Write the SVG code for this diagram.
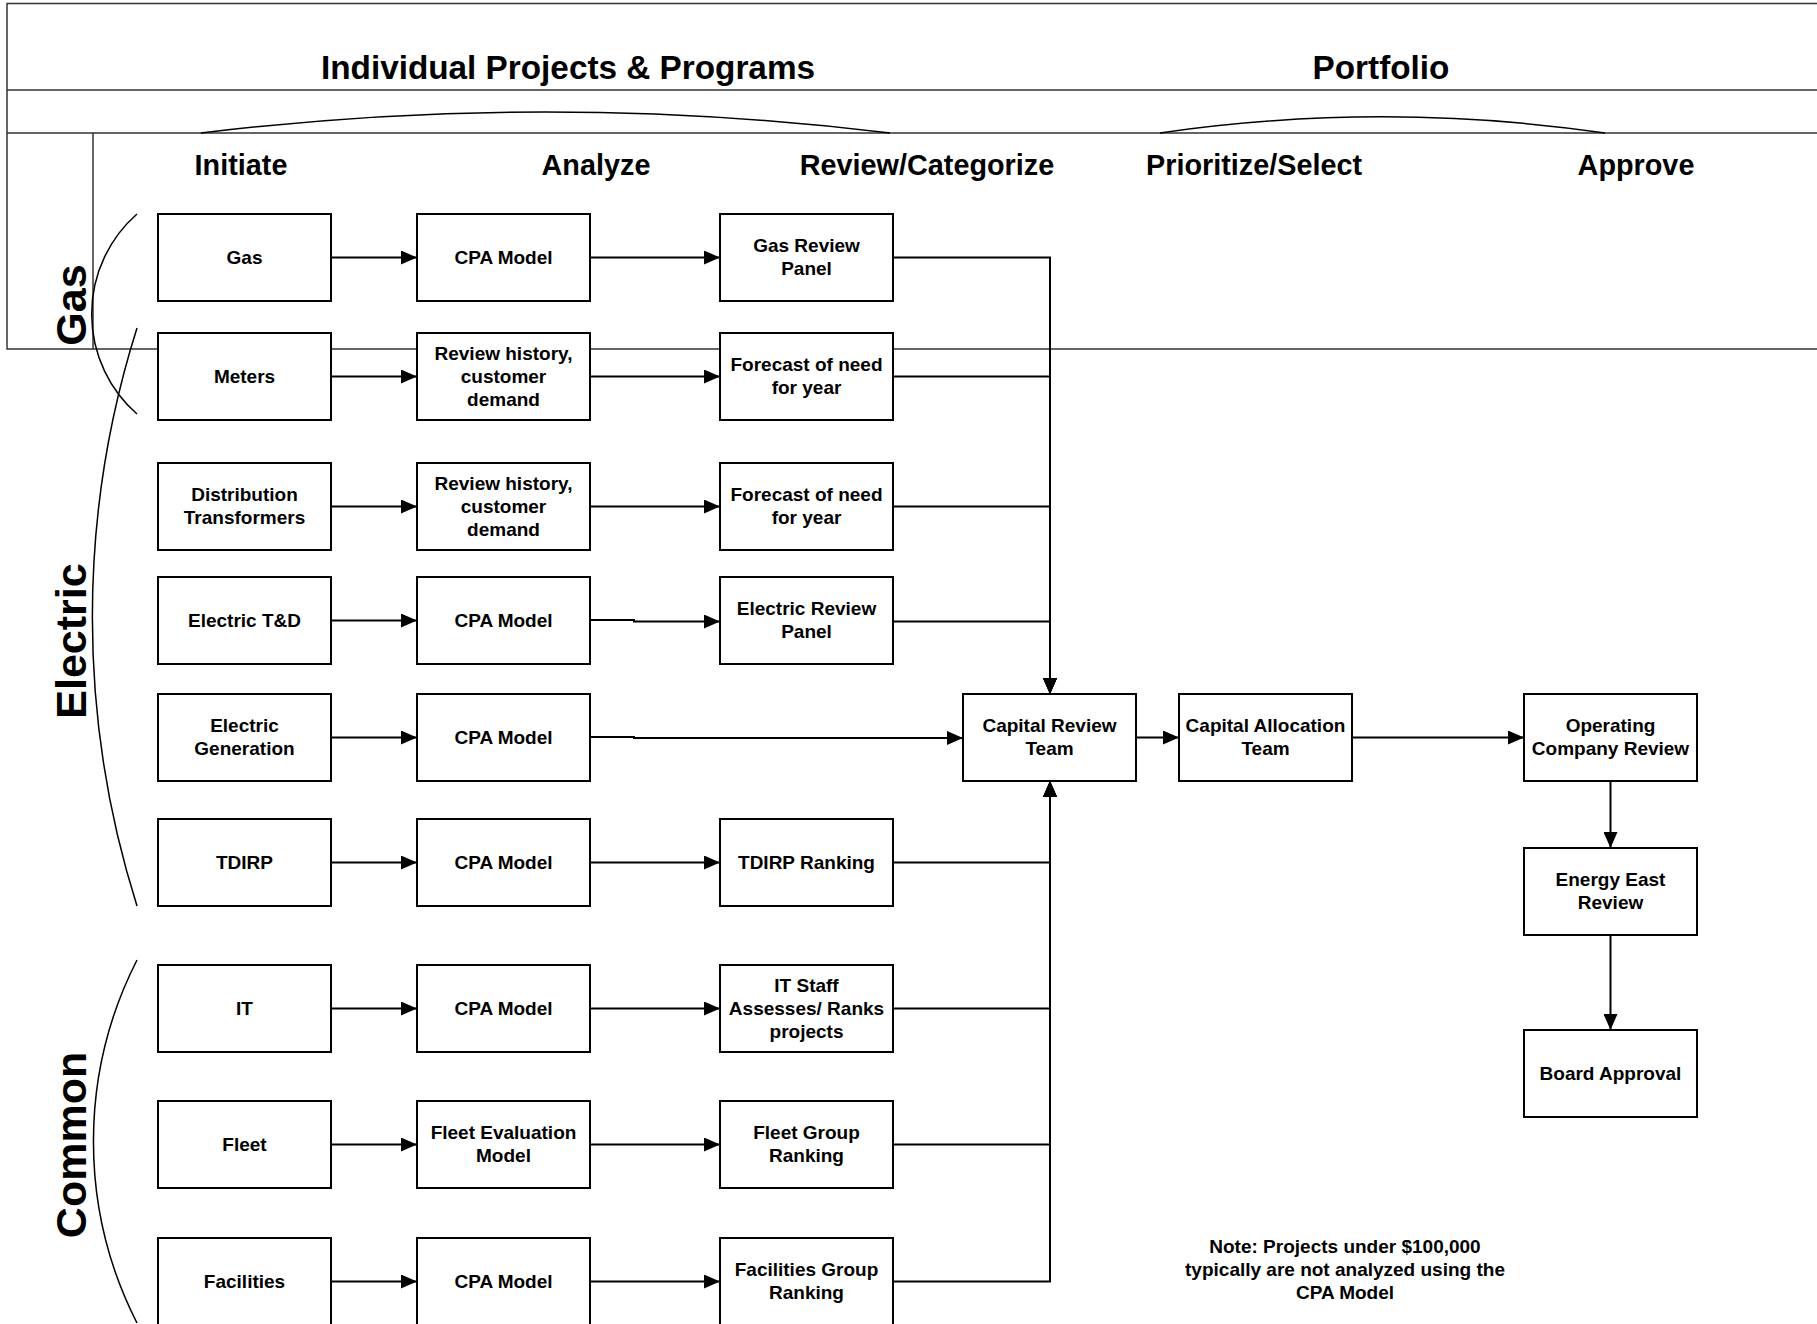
<svg xmlns="http://www.w3.org/2000/svg" width="1817" height="1324" viewBox="0 0 1817 1324">
<style>
  .frame { fill: none; stroke: #333; stroke-width: 1.5; }
  .brk { fill: none; stroke: #000; stroke-width: 1.5; }
  .box rect { fill: #fff; stroke: #000; stroke-width: 2; }
  .box text { font-family: "Liberation Sans", Arial, sans-serif; font-weight: bold; font-size: 19px; text-anchor: middle; fill: #000; }
  .conn path { fill: none; stroke: #000; stroke-width: 2; marker-end: url(#arr); }
  .hdr { font-family: "Liberation Sans", Arial, sans-serif; font-weight: bold; fill: #000; text-anchor: middle; }
  .h1 { font-size: 33.3px; }
  .h2 { font-size: 28.8px; }
  .side { font-size: 43px; }
  .note { font-family: "Liberation Sans", Arial, sans-serif; font-weight: bold; font-size: 19px; text-anchor: middle; fill: #000; }
</style>
<defs>
  <marker id="arr" markerUnits="userSpaceOnUse" markerWidth="16" markerHeight="14" refX="16" refY="7" orient="auto">
    <path d="M0,0 L16,7 L0,14 z" fill="#000"/>
  </marker>
</defs>
<rect width="1817" height="1324" fill="#fff"/>

<g id="frame">
  <path class="frame" d="M1817 3.5 H7 V349 H1817"/>
  <path class="frame" d="M7 90 H1817 M7 133 H1817 M93 133 V349"/>
  <path class="brk" d="M201 133 A2836 2836 0 0 1 890 133"/>
  <path class="brk" d="M1160 133 A1550 1550 0 0 1 1605 133"/>
  <text class="hdr h1" x="568" y="79">Individual Projects &amp; Programs</text>
  <text class="hdr h1" x="1381" y="79">Portfolio</text>
  <text class="hdr h2" x="241" y="175">Initiate</text>
  <text class="hdr h2" x="596" y="175">Analyze</text>
  <text class="hdr h2" x="927" y="175">Review/Categorize</text>
  <text class="hdr h2" x="1254" y="175">Prioritize/Select</text>
  <text class="hdr h2" x="1636" y="175">Approve</text>
</g>

<g id="groups">
  <path class="brk" d="M137 214 A133 133 0 0 0 137 414"/>
  <path class="brk" d="M137 328 A958 958 0 0 0 137 906"/>
  <path class="brk" d="M137 960 A400 400 0 0 0 137 1323"/>
  <text class="hdr side" transform="translate(85.5,305) rotate(-90)">Gas</text>
  <text class="hdr side" transform="translate(85.5,641) rotate(-90)">Electric</text>
  <text class="hdr side" transform="translate(85.5,1145) rotate(-90)">Common</text>
</g>

<g class="conn" id="connectors">
  <path d="M331 257.5 H417"/>
  <path d="M590 257.5 H720"/>
  <path d="M331 376.5 H417"/>
  <path d="M590 376.5 H720"/>
  <path d="M331 506.5 H417"/>
  <path d="M590 506.5 H720"/>
  <path d="M331 620.5 H417"/>
  <path d="M590 620 H634 V621.5 H720"/>
  <path d="M331 737.5 H417"/>
  <path d="M590 737 H634 V738 H963"/>
  <path d="M331 862.5 H417"/>
  <path d="M590 862.5 H720"/>
  <path d="M331 1008.5 H417"/>
  <path d="M590 1008.5 H720"/>
  <path d="M331 1144.5 H417"/>
  <path d="M590 1144.5 H720"/>
  <path d="M331 1281.5 H417"/>
  <path d="M590 1281.5 H720"/>
  <path d="M893 257.5 H1050 V694"/>
  <path d="M893 376.5 H1050 V694"/>
  <path d="M893 506.5 H1050 V694"/>
  <path d="M893 621.5 H1050 V694"/>
  <path d="M893 862.5 H1050 V781"/>
  <path d="M893 1008.5 H1050 V781"/>
  <path d="M893 1144.5 H1050 V781"/>
  <path d="M893 1281.5 H1050 V781"/>
  <path d="M1136 737.5 H1179"/>
  <path d="M1352 737.5 H1524"/>
  <path d="M1610.5 781 V848"/>
  <path d="M1610.5 935 V1030"/>
</g>

<g id="n-gas" class="box"><rect x="158" y="214" width="173" height="87"/><text x="244.5" y="263.5">Gas</text></g>
<g id="n-gas-cpa" class="box"><rect x="417" y="214" width="173" height="87"/><text x="503.5" y="263.5">CPA Model</text></g>
<g id="n-gas-review" class="box"><rect x="720" y="214" width="173" height="87"/><text x="806.5" y="252">Gas Review</text><text x="806.5" y="275">Panel</text></g>

<g id="n-meters" class="box"><rect x="158" y="333" width="173" height="87"/><text x="244.5" y="382.5">Meters</text></g>
<g id="n-meters-hist" class="box"><rect x="417" y="333" width="173" height="87"/><text x="503.5" y="359.5">Review history,</text><text x="503.5" y="382.5">customer</text><text x="503.5" y="405.5">demand</text></g>
<g id="n-meters-fc" class="box"><rect x="720" y="333" width="173" height="87"/><text x="806.5" y="371">Forecast of need</text><text x="806.5" y="394">for year</text></g>

<g id="n-dist" class="box"><rect x="158" y="463" width="173" height="87"/><text x="244.5" y="501">Distribution</text><text x="244.5" y="524">Transformers</text></g>
<g id="n-dist-hist" class="box"><rect x="417" y="463" width="173" height="87"/><text x="503.5" y="489.5">Review history,</text><text x="503.5" y="512.5">customer</text><text x="503.5" y="535.5">demand</text></g>
<g id="n-dist-fc" class="box"><rect x="720" y="463" width="173" height="87"/><text x="806.5" y="501">Forecast of need</text><text x="806.5" y="524">for year</text></g>

<g id="n-etd" class="box"><rect x="158" y="577" width="173" height="87"/><text x="244.5" y="626.5">Electric T&amp;D</text></g>
<g id="n-etd-cpa" class="box"><rect x="417" y="577" width="173" height="87"/><text x="503.5" y="626.5">CPA Model</text></g>
<g id="n-etd-review" class="box"><rect x="720" y="577" width="173" height="87"/><text x="806.5" y="615">Electric Review</text><text x="806.5" y="638">Panel</text></g>

<g id="n-egen" class="box"><rect x="158" y="694" width="173" height="87"/><text x="244.5" y="732">Electric</text><text x="244.5" y="755">Generation</text></g>
<g id="n-egen-cpa" class="box"><rect x="417" y="694" width="173" height="87"/><text x="503.5" y="743.5">CPA Model</text></g>

<g id="n-tdirp" class="box"><rect x="158" y="819" width="173" height="87"/><text x="244.5" y="868.5">TDIRP</text></g>
<g id="n-tdirp-cpa" class="box"><rect x="417" y="819" width="173" height="87"/><text x="503.5" y="868.5">CPA Model</text></g>
<g id="n-tdirp-rank" class="box"><rect x="720" y="819" width="173" height="87"/><text x="806.5" y="868.5">TDIRP Ranking</text></g>

<g id="n-it" class="box"><rect x="158" y="965" width="173" height="87"/><text x="244.5" y="1014.5">IT</text></g>
<g id="n-it-cpa" class="box"><rect x="417" y="965" width="173" height="87"/><text x="503.5" y="1014.5">CPA Model</text></g>
<g id="n-it-staff" class="box"><rect x="720" y="965" width="173" height="87"/><text x="806.5" y="991.5">IT Staff</text><text x="806.5" y="1014.5">Assesses/ Ranks</text><text x="806.5" y="1037.5">projects</text></g>

<g id="n-fleet" class="box"><rect x="158" y="1101" width="173" height="87"/><text x="244.5" y="1150.5">Fleet</text></g>
<g id="n-fleet-eval" class="box"><rect x="417" y="1101" width="173" height="87"/><text x="503.5" y="1139">Fleet Evaluation</text><text x="503.5" y="1162">Model</text></g>
<g id="n-fleet-rank" class="box"><rect x="720" y="1101" width="173" height="87"/><text x="806.5" y="1139">Fleet Group</text><text x="806.5" y="1162">Ranking</text></g>

<g id="n-fac" class="box"><rect x="158" y="1238" width="173" height="87"/><text x="244.5" y="1287.5">Facilities</text></g>
<g id="n-fac-cpa" class="box"><rect x="417" y="1238" width="173" height="87"/><text x="503.5" y="1287.5">CPA Model</text></g>
<g id="n-fac-rank" class="box"><rect x="720" y="1238" width="173" height="87"/><text x="806.5" y="1276">Facilities Group</text><text x="806.5" y="1299">Ranking</text></g>

<g id="n-crt" class="box"><rect x="963" y="694" width="173" height="87"/><text x="1049.5" y="732">Capital Review</text><text x="1049.5" y="755">Team</text></g>
<g id="n-cat" class="box"><rect x="1179" y="694" width="173" height="87"/><text x="1265.5" y="732">Capital Allocation</text><text x="1265.5" y="755">Team</text></g>
<g id="n-ocr" class="box"><rect x="1524" y="694" width="173" height="87"/><text x="1610.5" y="732">Operating</text><text x="1610.5" y="755">Company Review</text></g>
<g id="n-ee" class="box"><rect x="1524" y="848" width="173" height="87"/><text x="1610.5" y="886">Energy East</text><text x="1610.5" y="909">Review</text></g>
<g id="n-board" class="box"><rect x="1524" y="1030" width="173" height="87"/><text x="1610.5" y="1079.5">Board Approval</text></g>

<g id="note">
  <text class="note" x="1345" y="1253">Note: Projects under $100,000</text>
  <text class="note" x="1345" y="1276">typically are not analyzed using the</text>
  <text class="note" x="1345" y="1299">CPA Model</text>
</g>
</svg>
